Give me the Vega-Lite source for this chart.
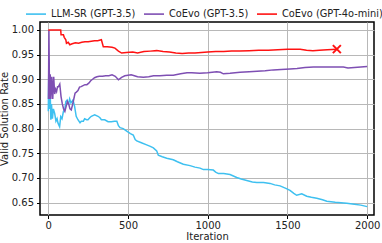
{
  "$schema": "https://vega.github.io/schema/vega-lite/v6.json",
  "width": 334,
  "height": 193,
  "autosize": {"type": "none"},
  "padding": {"left": 40, "top": 22, "right": 8, "bottom": 28},
  "config": {
    "font": "DejaVu Sans",
    "view": {"stroke": "black", "strokeWidth": 1.5},
    "axis": {
      "grid": true,
      "gridColor": "#b8b8b8",
      "gridWidth": 1,
      "domain": false,
      "tickColor": "black",
      "tickSize": 3.5,
      "tickWidth": 1,
      "labelFontSize": 10,
      "labelColor": "#222222",
      "labelFont": "DejaVu Sans",
      "titleFont": "DejaVu Sans",
      "titleFontSize": 10,
      "titleFontWeight": "normal",
      "titleColor": "#222222"
    },
    "legend": {
      "orient": "none",
      "legendX": -15,
      "legendY": -19,
      "direction": "horizontal",
      "padding": 0,
      "symbolType": "stroke",
      "symbolSize": 400,
      "symbolStrokeWidth": 1.6,
      "labelFontSize": 9.8,
      "labelFont": "DejaVu Sans",
      "labelColor": "#222222",
      "labelOffset": 4,
      "columnPadding": 4,
      "labelLimit": 200,
      "title": null
    }
  },
  "data": {
    "values": [
      {"series": "LLM-SR (GPT-3.5)", "iteration": 0, "rate": 0.835},
      {"series": "LLM-SR (GPT-3.5)", "iteration": 4, "rate": 0.94},
      {"series": "LLM-SR (GPT-3.5)", "iteration": 8, "rate": 0.84},
      {"series": "LLM-SR (GPT-3.5)", "iteration": 12, "rate": 0.872},
      {"series": "LLM-SR (GPT-3.5)", "iteration": 16, "rate": 0.818},
      {"series": "LLM-SR (GPT-3.5)", "iteration": 20, "rate": 0.85},
      {"series": "LLM-SR (GPT-3.5)", "iteration": 26, "rate": 0.82},
      {"series": "LLM-SR (GPT-3.5)", "iteration": 32, "rate": 0.84},
      {"series": "LLM-SR (GPT-3.5)", "iteration": 40, "rate": 0.831},
      {"series": "LLM-SR (GPT-3.5)", "iteration": 48, "rate": 0.815},
      {"series": "LLM-SR (GPT-3.5)", "iteration": 55, "rate": 0.82},
      {"series": "LLM-SR (GPT-3.5)", "iteration": 61, "rate": 0.811},
      {"series": "LLM-SR (GPT-3.5)", "iteration": 71, "rate": 0.804},
      {"series": "LLM-SR (GPT-3.5)", "iteration": 78, "rate": 0.824},
      {"series": "LLM-SR (GPT-3.5)", "iteration": 86, "rate": 0.82},
      {"series": "LLM-SR (GPT-3.5)", "iteration": 95, "rate": 0.835},
      {"series": "LLM-SR (GPT-3.5)", "iteration": 103, "rate": 0.838},
      {"series": "LLM-SR (GPT-3.5)", "iteration": 110, "rate": 0.855},
      {"series": "LLM-SR (GPT-3.5)", "iteration": 118, "rate": 0.858},
      {"series": "LLM-SR (GPT-3.5)", "iteration": 126, "rate": 0.848},
      {"series": "LLM-SR (GPT-3.5)", "iteration": 134, "rate": 0.86},
      {"series": "LLM-SR (GPT-3.5)", "iteration": 142, "rate": 0.852},
      {"series": "LLM-SR (GPT-3.5)", "iteration": 155, "rate": 0.858},
      {"series": "LLM-SR (GPT-3.5)", "iteration": 165, "rate": 0.845},
      {"series": "LLM-SR (GPT-3.5)", "iteration": 175, "rate": 0.825},
      {"series": "LLM-SR (GPT-3.5)", "iteration": 186, "rate": 0.818},
      {"series": "LLM-SR (GPT-3.5)", "iteration": 199, "rate": 0.812},
      {"series": "LLM-SR (GPT-3.5)", "iteration": 207, "rate": 0.815},
      {"series": "LLM-SR (GPT-3.5)", "iteration": 220, "rate": 0.815},
      {"series": "LLM-SR (GPT-3.5)", "iteration": 228, "rate": 0.82},
      {"series": "LLM-SR (GPT-3.5)", "iteration": 240, "rate": 0.818},
      {"series": "LLM-SR (GPT-3.5)", "iteration": 249, "rate": 0.818},
      {"series": "LLM-SR (GPT-3.5)", "iteration": 260, "rate": 0.822},
      {"series": "LLM-SR (GPT-3.5)", "iteration": 270, "rate": 0.825},
      {"series": "LLM-SR (GPT-3.5)", "iteration": 291, "rate": 0.828},
      {"series": "LLM-SR (GPT-3.5)", "iteration": 312, "rate": 0.825},
      {"series": "LLM-SR (GPT-3.5)", "iteration": 324, "rate": 0.822},
      {"series": "LLM-SR (GPT-3.5)", "iteration": 333, "rate": 0.818},
      {"series": "LLM-SR (GPT-3.5)", "iteration": 354, "rate": 0.818},
      {"series": "LLM-SR (GPT-3.5)", "iteration": 375, "rate": 0.814},
      {"series": "LLM-SR (GPT-3.5)", "iteration": 395, "rate": 0.814},
      {"series": "LLM-SR (GPT-3.5)", "iteration": 415, "rate": 0.815},
      {"series": "LLM-SR (GPT-3.5)", "iteration": 430, "rate": 0.815},
      {"series": "LLM-SR (GPT-3.5)", "iteration": 440, "rate": 0.806},
      {"series": "LLM-SR (GPT-3.5)", "iteration": 450, "rate": 0.802},
      {"series": "LLM-SR (GPT-3.5)", "iteration": 470, "rate": 0.8},
      {"series": "LLM-SR (GPT-3.5)", "iteration": 492, "rate": 0.795},
      {"series": "LLM-SR (GPT-3.5)", "iteration": 515, "rate": 0.79},
      {"series": "LLM-SR (GPT-3.5)", "iteration": 533, "rate": 0.787},
      {"series": "LLM-SR (GPT-3.5)", "iteration": 545, "rate": 0.778},
      {"series": "LLM-SR (GPT-3.5)", "iteration": 555, "rate": 0.775},
      {"series": "LLM-SR (GPT-3.5)", "iteration": 580, "rate": 0.772},
      {"series": "LLM-SR (GPT-3.5)", "iteration": 617, "rate": 0.767},
      {"series": "LLM-SR (GPT-3.5)", "iteration": 640, "rate": 0.764},
      {"series": "LLM-SR (GPT-3.5)", "iteration": 659, "rate": 0.761},
      {"series": "LLM-SR (GPT-3.5)", "iteration": 680, "rate": 0.755},
      {"series": "LLM-SR (GPT-3.5)", "iteration": 690, "rate": 0.746},
      {"series": "LLM-SR (GPT-3.5)", "iteration": 715, "rate": 0.743},
      {"series": "LLM-SR (GPT-3.5)", "iteration": 743, "rate": 0.74},
      {"series": "LLM-SR (GPT-3.5)", "iteration": 784, "rate": 0.737},
      {"series": "LLM-SR (GPT-3.5)", "iteration": 810, "rate": 0.733},
      {"series": "LLM-SR (GPT-3.5)", "iteration": 847, "rate": 0.728},
      {"series": "LLM-SR (GPT-3.5)", "iteration": 889, "rate": 0.725},
      {"series": "LLM-SR (GPT-3.5)", "iteration": 920, "rate": 0.722},
      {"series": "LLM-SR (GPT-3.5)", "iteration": 952, "rate": 0.72},
      {"series": "LLM-SR (GPT-3.5)", "iteration": 973, "rate": 0.717},
      {"series": "LLM-SR (GPT-3.5)", "iteration": 1000, "rate": 0.717},
      {"series": "LLM-SR (GPT-3.5)", "iteration": 1035, "rate": 0.716},
      {"series": "LLM-SR (GPT-3.5)", "iteration": 1050, "rate": 0.712},
      {"series": "LLM-SR (GPT-3.5)", "iteration": 1067, "rate": 0.709},
      {"series": "LLM-SR (GPT-3.5)", "iteration": 1100, "rate": 0.709},
      {"series": "LLM-SR (GPT-3.5)", "iteration": 1140, "rate": 0.707},
      {"series": "LLM-SR (GPT-3.5)", "iteration": 1182, "rate": 0.701},
      {"series": "LLM-SR (GPT-3.5)", "iteration": 1210, "rate": 0.698},
      {"series": "LLM-SR (GPT-3.5)", "iteration": 1245, "rate": 0.695},
      {"series": "LLM-SR (GPT-3.5)", "iteration": 1280, "rate": 0.692},
      {"series": "LLM-SR (GPT-3.5)", "iteration": 1308, "rate": 0.691},
      {"series": "LLM-SR (GPT-3.5)", "iteration": 1350, "rate": 0.691},
      {"series": "LLM-SR (GPT-3.5)", "iteration": 1391, "rate": 0.689},
      {"series": "LLM-SR (GPT-3.5)", "iteration": 1420, "rate": 0.686},
      {"series": "LLM-SR (GPT-3.5)", "iteration": 1454, "rate": 0.684},
      {"series": "LLM-SR (GPT-3.5)", "iteration": 1490, "rate": 0.679},
      {"series": "LLM-SR (GPT-3.5)", "iteration": 1516, "rate": 0.675},
      {"series": "LLM-SR (GPT-3.5)", "iteration": 1540, "rate": 0.669},
      {"series": "LLM-SR (GPT-3.5)", "iteration": 1558, "rate": 0.665},
      {"series": "LLM-SR (GPT-3.5)", "iteration": 1590, "rate": 0.668},
      {"series": "LLM-SR (GPT-3.5)", "iteration": 1621, "rate": 0.663},
      {"series": "LLM-SR (GPT-3.5)", "iteration": 1650, "rate": 0.661},
      {"series": "LLM-SR (GPT-3.5)", "iteration": 1684, "rate": 0.659},
      {"series": "LLM-SR (GPT-3.5)", "iteration": 1720, "rate": 0.656},
      {"series": "LLM-SR (GPT-3.5)", "iteration": 1747, "rate": 0.653},
      {"series": "LLM-SR (GPT-3.5)", "iteration": 1800, "rate": 0.651},
      {"series": "LLM-SR (GPT-3.5)", "iteration": 1872, "rate": 0.649},
      {"series": "LLM-SR (GPT-3.5)", "iteration": 1920, "rate": 0.647},
      {"series": "LLM-SR (GPT-3.5)", "iteration": 1960, "rate": 0.645},
      {"series": "LLM-SR (GPT-3.5)", "iteration": 2000, "rate": 0.642},

      {"series": "CoEvo (GPT-3.5)", "iteration": 1, "rate": 0.86},
      {"series": "CoEvo (GPT-3.5)", "iteration": 4, "rate": 1.0},
      {"series": "CoEvo (GPT-3.5)", "iteration": 8, "rate": 0.86},
      {"series": "CoEvo (GPT-3.5)", "iteration": 12, "rate": 0.91},
      {"series": "CoEvo (GPT-3.5)", "iteration": 16, "rate": 0.86},
      {"series": "CoEvo (GPT-3.5)", "iteration": 22, "rate": 0.905},
      {"series": "CoEvo (GPT-3.5)", "iteration": 28, "rate": 0.86},
      {"series": "CoEvo (GPT-3.5)", "iteration": 34, "rate": 0.905},
      {"series": "CoEvo (GPT-3.5)", "iteration": 40, "rate": 0.87},
      {"series": "CoEvo (GPT-3.5)", "iteration": 46, "rate": 0.88},
      {"series": "CoEvo (GPT-3.5)", "iteration": 52, "rate": 0.875},
      {"series": "CoEvo (GPT-3.5)", "iteration": 58, "rate": 0.885},
      {"series": "CoEvo (GPT-3.5)", "iteration": 64, "rate": 0.885},
      {"series": "CoEvo (GPT-3.5)", "iteration": 72, "rate": 0.89},
      {"series": "CoEvo (GPT-3.5)", "iteration": 80, "rate": 0.865},
      {"series": "CoEvo (GPT-3.5)", "iteration": 88, "rate": 0.85},
      {"series": "CoEvo (GPT-3.5)", "iteration": 96, "rate": 0.84},
      {"series": "CoEvo (GPT-3.5)", "iteration": 104, "rate": 0.835},
      {"series": "CoEvo (GPT-3.5)", "iteration": 112, "rate": 0.845},
      {"series": "CoEvo (GPT-3.5)", "iteration": 120, "rate": 0.855},
      {"series": "CoEvo (GPT-3.5)", "iteration": 128, "rate": 0.85},
      {"series": "CoEvo (GPT-3.5)", "iteration": 136, "rate": 0.84},
      {"series": "CoEvo (GPT-3.5)", "iteration": 144, "rate": 0.838},
      {"series": "CoEvo (GPT-3.5)", "iteration": 152, "rate": 0.848},
      {"series": "CoEvo (GPT-3.5)", "iteration": 160, "rate": 0.86},
      {"series": "CoEvo (GPT-3.5)", "iteration": 168, "rate": 0.872},
      {"series": "CoEvo (GPT-3.5)", "iteration": 176, "rate": 0.874},
      {"series": "CoEvo (GPT-3.5)", "iteration": 186, "rate": 0.877},
      {"series": "CoEvo (GPT-3.5)", "iteration": 196, "rate": 0.884},
      {"series": "CoEvo (GPT-3.5)", "iteration": 206, "rate": 0.885},
      {"series": "CoEvo (GPT-3.5)", "iteration": 218, "rate": 0.887},
      {"series": "CoEvo (GPT-3.5)", "iteration": 230, "rate": 0.889},
      {"series": "CoEvo (GPT-3.5)", "iteration": 242, "rate": 0.889},
      {"series": "CoEvo (GPT-3.5)", "iteration": 254, "rate": 0.892},
      {"series": "CoEvo (GPT-3.5)", "iteration": 266, "rate": 0.897},
      {"series": "CoEvo (GPT-3.5)", "iteration": 278, "rate": 0.9},
      {"series": "CoEvo (GPT-3.5)", "iteration": 290, "rate": 0.903},
      {"series": "CoEvo (GPT-3.5)", "iteration": 305, "rate": 0.905},
      {"series": "CoEvo (GPT-3.5)", "iteration": 320, "rate": 0.906},
      {"series": "CoEvo (GPT-3.5)", "iteration": 340, "rate": 0.906},
      {"series": "CoEvo (GPT-3.5)", "iteration": 360, "rate": 0.907},
      {"series": "CoEvo (GPT-3.5)", "iteration": 380, "rate": 0.907},
      {"series": "CoEvo (GPT-3.5)", "iteration": 400, "rate": 0.909},
      {"series": "CoEvo (GPT-3.5)", "iteration": 420, "rate": 0.906},
      {"series": "CoEvo (GPT-3.5)", "iteration": 440, "rate": 0.899},
      {"series": "CoEvo (GPT-3.5)", "iteration": 460, "rate": 0.904},
      {"series": "CoEvo (GPT-3.5)", "iteration": 480, "rate": 0.907},
      {"series": "CoEvo (GPT-3.5)", "iteration": 500, "rate": 0.908},
      {"series": "CoEvo (GPT-3.5)", "iteration": 520, "rate": 0.909},
      {"series": "CoEvo (GPT-3.5)", "iteration": 540, "rate": 0.907},
      {"series": "CoEvo (GPT-3.5)", "iteration": 560, "rate": 0.905},
      {"series": "CoEvo (GPT-3.5)", "iteration": 596, "rate": 0.904},
      {"series": "CoEvo (GPT-3.5)", "iteration": 630, "rate": 0.905},
      {"series": "CoEvo (GPT-3.5)", "iteration": 660, "rate": 0.907},
      {"series": "CoEvo (GPT-3.5)", "iteration": 700, "rate": 0.907},
      {"series": "CoEvo (GPT-3.5)", "iteration": 743, "rate": 0.908},
      {"series": "CoEvo (GPT-3.5)", "iteration": 784, "rate": 0.908},
      {"series": "CoEvo (GPT-3.5)", "iteration": 830, "rate": 0.911},
      {"series": "CoEvo (GPT-3.5)", "iteration": 870, "rate": 0.913},
      {"series": "CoEvo (GPT-3.5)", "iteration": 900, "rate": 0.913},
      {"series": "CoEvo (GPT-3.5)", "iteration": 950, "rate": 0.912},
      {"series": "CoEvo (GPT-3.5)", "iteration": 1000, "rate": 0.913},
      {"series": "CoEvo (GPT-3.5)", "iteration": 1056, "rate": 0.915},
      {"series": "CoEvo (GPT-3.5)", "iteration": 1080, "rate": 0.914},
      {"series": "CoEvo (GPT-3.5)", "iteration": 1098, "rate": 0.911},
      {"series": "CoEvo (GPT-3.5)", "iteration": 1140, "rate": 0.912},
      {"series": "CoEvo (GPT-3.5)", "iteration": 1203, "rate": 0.914},
      {"series": "CoEvo (GPT-3.5)", "iteration": 1260, "rate": 0.915},
      {"series": "CoEvo (GPT-3.5)", "iteration": 1310, "rate": 0.916},
      {"series": "CoEvo (GPT-3.5)", "iteration": 1360, "rate": 0.917},
      {"series": "CoEvo (GPT-3.5)", "iteration": 1412, "rate": 0.919},
      {"series": "CoEvo (GPT-3.5)", "iteration": 1460, "rate": 0.92},
      {"series": "CoEvo (GPT-3.5)", "iteration": 1516, "rate": 0.921},
      {"series": "CoEvo (GPT-3.5)", "iteration": 1560, "rate": 0.922},
      {"series": "CoEvo (GPT-3.5)", "iteration": 1610, "rate": 0.924},
      {"series": "CoEvo (GPT-3.5)", "iteration": 1663, "rate": 0.925},
      {"series": "CoEvo (GPT-3.5)", "iteration": 1720, "rate": 0.925},
      {"series": "CoEvo (GPT-3.5)", "iteration": 1780, "rate": 0.925},
      {"series": "CoEvo (GPT-3.5)", "iteration": 1851, "rate": 0.925},
      {"series": "CoEvo (GPT-3.5)", "iteration": 1880, "rate": 0.923},
      {"series": "CoEvo (GPT-3.5)", "iteration": 1920, "rate": 0.924},
      {"series": "CoEvo (GPT-3.5)", "iteration": 1960, "rate": 0.925},
      {"series": "CoEvo (GPT-3.5)", "iteration": 2000, "rate": 0.926},

      {"series": "CoEvo (GPT-4o-mini)", "iteration": 0, "rate": 1.0},
      {"series": "CoEvo (GPT-4o-mini)", "iteration": 40, "rate": 1.0},
      {"series": "CoEvo (GPT-4o-mini)", "iteration": 78, "rate": 1.0},
      {"series": "CoEvo (GPT-4o-mini)", "iteration": 80, "rate": 0.99},
      {"series": "CoEvo (GPT-4o-mini)", "iteration": 95, "rate": 0.99},
      {"series": "CoEvo (GPT-4o-mini)", "iteration": 100, "rate": 0.985},
      {"series": "CoEvo (GPT-4o-mini)", "iteration": 110, "rate": 0.98},
      {"series": "CoEvo (GPT-4o-mini)", "iteration": 114, "rate": 0.973},
      {"series": "CoEvo (GPT-4o-mini)", "iteration": 125, "rate": 0.975},
      {"series": "CoEvo (GPT-4o-mini)", "iteration": 135, "rate": 0.97},
      {"series": "CoEvo (GPT-4o-mini)", "iteration": 150, "rate": 0.972},
      {"series": "CoEvo (GPT-4o-mini)", "iteration": 170, "rate": 0.974},
      {"series": "CoEvo (GPT-4o-mini)", "iteration": 190, "rate": 0.973},
      {"series": "CoEvo (GPT-4o-mini)", "iteration": 210, "rate": 0.975},
      {"series": "CoEvo (GPT-4o-mini)", "iteration": 230, "rate": 0.976},
      {"series": "CoEvo (GPT-4o-mini)", "iteration": 250, "rate": 0.976},
      {"series": "CoEvo (GPT-4o-mini)", "iteration": 270, "rate": 0.977},
      {"series": "CoEvo (GPT-4o-mini)", "iteration": 290, "rate": 0.978},
      {"series": "CoEvo (GPT-4o-mini)", "iteration": 310, "rate": 0.978},
      {"series": "CoEvo (GPT-4o-mini)", "iteration": 333, "rate": 0.98},
      {"series": "CoEvo (GPT-4o-mini)", "iteration": 345, "rate": 0.966},
      {"series": "CoEvo (GPT-4o-mini)", "iteration": 370, "rate": 0.966},
      {"series": "CoEvo (GPT-4o-mini)", "iteration": 400, "rate": 0.965},
      {"series": "CoEvo (GPT-4o-mini)", "iteration": 418, "rate": 0.963},
      {"series": "CoEvo (GPT-4o-mini)", "iteration": 440, "rate": 0.957},
      {"series": "CoEvo (GPT-4o-mini)", "iteration": 460, "rate": 0.953},
      {"series": "CoEvo (GPT-4o-mini)", "iteration": 490, "rate": 0.954},
      {"series": "CoEvo (GPT-4o-mini)", "iteration": 530, "rate": 0.955},
      {"series": "CoEvo (GPT-4o-mini)", "iteration": 560, "rate": 0.953},
      {"series": "CoEvo (GPT-4o-mini)", "iteration": 600, "rate": 0.956},
      {"series": "CoEvo (GPT-4o-mini)", "iteration": 640, "rate": 0.957},
      {"series": "CoEvo (GPT-4o-mini)", "iteration": 680, "rate": 0.958},
      {"series": "CoEvo (GPT-4o-mini)", "iteration": 720, "rate": 0.956},
      {"series": "CoEvo (GPT-4o-mini)", "iteration": 760, "rate": 0.955},
      {"series": "CoEvo (GPT-4o-mini)", "iteration": 800, "rate": 0.953},
      {"series": "CoEvo (GPT-4o-mini)", "iteration": 840, "rate": 0.952},
      {"series": "CoEvo (GPT-4o-mini)", "iteration": 880, "rate": 0.953},
      {"series": "CoEvo (GPT-4o-mini)", "iteration": 920, "rate": 0.953},
      {"series": "CoEvo (GPT-4o-mini)", "iteration": 960, "rate": 0.954},
      {"series": "CoEvo (GPT-4o-mini)", "iteration": 1000, "rate": 0.955},
      {"series": "CoEvo (GPT-4o-mini)", "iteration": 1050, "rate": 0.956},
      {"series": "CoEvo (GPT-4o-mini)", "iteration": 1100, "rate": 0.956},
      {"series": "CoEvo (GPT-4o-mini)", "iteration": 1150, "rate": 0.957},
      {"series": "CoEvo (GPT-4o-mini)", "iteration": 1200, "rate": 0.957},
      {"series": "CoEvo (GPT-4o-mini)", "iteration": 1260, "rate": 0.958},
      {"series": "CoEvo (GPT-4o-mini)", "iteration": 1320, "rate": 0.959},
      {"series": "CoEvo (GPT-4o-mini)", "iteration": 1380, "rate": 0.959},
      {"series": "CoEvo (GPT-4o-mini)", "iteration": 1440, "rate": 0.96},
      {"series": "CoEvo (GPT-4o-mini)", "iteration": 1500, "rate": 0.961},
      {"series": "CoEvo (GPT-4o-mini)", "iteration": 1540, "rate": 0.961},
      {"series": "CoEvo (GPT-4o-mini)", "iteration": 1580, "rate": 0.961},
      {"series": "CoEvo (GPT-4o-mini)", "iteration": 1620, "rate": 0.959},
      {"series": "CoEvo (GPT-4o-mini)", "iteration": 1660, "rate": 0.958},
      {"series": "CoEvo (GPT-4o-mini)", "iteration": 1700, "rate": 0.959},
      {"series": "CoEvo (GPT-4o-mini)", "iteration": 1750, "rate": 0.96},
      {"series": "CoEvo (GPT-4o-mini)", "iteration": 1810, "rate": 0.961}
    ]
  },
  "encoding": {
    "x": {
      "field": "iteration",
      "type": "quantitative",
      "title": "Iteration",
      "scale": {"domain": [-52, 2043], "nice": false, "zero": false},
      "axis": {"values": [0, 500, 1000, 1500, 2000], "format": "d", "labelPadding": 2, "titlePadding": 1}
    },
    "y": {
      "field": "rate",
      "type": "quantitative",
      "title": "Valid Solution Rate",
      "scale": {"domain": [0.625, 1.016], "nice": false, "zero": false},
      "axis": {"values": [0.65, 0.7, 0.75, 0.8, 0.85, 0.9, 0.95, 1.0], "format": ".2f", "labelPadding": 3, "titlePadding": 2}
    }
  },
  "layer": [
    {
      "mark": {"type": "line", "strokeWidth": 1.5, "clip": true},
      "encoding": {
        "color": {
          "field": "series",
          "type": "nominal",
          "sort": null,
          "scale": {
            "domain": ["LLM-SR (GPT-3.5)", "CoEvo (GPT-3.5)", "CoEvo (GPT-4o-mini)"],
            "range": ["#3ec0f0", "#7e4fb3", "#ff1212"]
          },
          "legend": {"title": null}
        },
        "order": {"field": "iteration", "type": "quantitative"}
      }
    },
    {
      "transform": [{"filter": "datum.series === 'CoEvo (GPT-4o-mini)' && datum.iteration === 1810"}],
      "mark": {
        "type": "point",
        "shape": "M-1,-1L1,1M1,-1L-1,1",
        "size": 64,
        "strokeWidth": 2,
        "filled": false,
        "color": "#ff1212",
        "opacity": 1
      },
      "encoding": {}
    }
  ]
}
